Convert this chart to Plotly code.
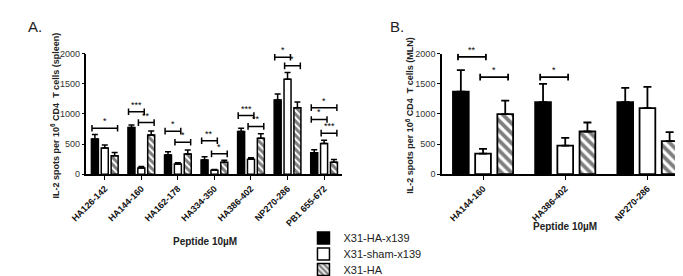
import plotly.graph_objects as go

# ---------------- data ----------------
peptides_A = ["HA126-142", "HA144-160", "HA162-178", "HA334-350",
              "HA386-402", "NP270-286", "PB1 655-672"]
peptides_B = ["HA144-160", "HA386-402", "NP270-286"]
groups = ["X31-HA-x139", "X31-sham-x139", "X31-HA"]

spleen_ha_x139 = [585, 775, 318, 238, 708, 1230, 356]
spleen_ha_x139_sem = [75, 40, 57, 53, 54, 103, 50]
spleen_sham_x139 = [435, 105, 170, 65, 250, 1575, 510]
spleen_sham_x139_sem = [51, 22, 20, 12, 25, 112, 55]
spleen_ha = [306, 652, 335, 197, 598, 1105, 200]
spleen_ha_sem = [53, 67, 67, 35, 73, 95, 43]

mln_ha_x139 = [1370, 1194, 1194]
mln_ha_x139_sem = [358, 304, 240]
mln_sham_x139 = [341, 474, 1098]
mln_sham_x139_sem = [80, 128, 352]
mln_ha = [997, 709, 549]
mln_ha_sem = [224, 149, 149]

# significance: (category index, from bar, to bar, bracket height, label)
sig_A = [(0, 0, 2, 762, "*"), (1, 0, 1, 1036, "***"), (1, 1, 2, 857, "**"),
         (2, 0, 1, 715, "*"), (2, 1, 2, 530, "*"), (3, 0, 1, 555, "**"),
         (3, 1, 2, 338, "*"), (4, 0, 1, 973, "***"), (4, 1, 2, 793, "**"),
         (5, 0, 1, 1941, "*"), (5, 1, 2, 1798, "*"), (6, 0, 2, 1105, "*"),
         (6, 0, 1, 909, "*"), (6, 1, 2, 682, "***")]
sig_B = [(0, 0, 1, 1946, "**"), (0, 1, 2, 1610, "*"), (1, 0, 1, 1610, "*")]

y_ticks = [0, 500, 1000, 1500, 2000]

# ---------------- style ----------------
BARGAP = 0.19
BARGROUPGAP = 0.29
FONT = "Liberation Sans, Arial, sans-serif"
styles = [
    dict(color="black", line=dict(color="black", width=1.5)),
    dict(color="white", line=dict(color="black", width=1.5)),
    dict(color="white", line=dict(color="black", width=1.5),
         pattern=dict(shape="\\", fgcolor="black", bgcolor="white",
                      size=5, solidity=0.6)),
]
legend_names = ["legend", "legend2", "legend3"]

fig = go.Figure()

panelA = [(spleen_ha_x139, spleen_ha_x139_sem),
          (spleen_sham_x139, spleen_sham_x139_sem),
          (spleen_ha, spleen_ha_sem)]
panelB = [(mln_ha_x139, mln_ha_x139_sem),
          (mln_sham_x139, mln_sham_x139_sem),
          (mln_ha, mln_ha_sem)]

for i, (vals, sem) in enumerate(panelA):
    fig.add_trace(go.Bar(
        x=peptides_A, y=vals, name=groups[i], marker=styles[i],
        legend=legend_names[i], offsetgroup=str(i),
        error_y=dict(type="data", array=sem, arrayminus=[0] * len(sem),
                     symmetric=False, color="black", thickness=1.5, width=3),
        xaxis="x", yaxis="y"))

for i, (vals, sem) in enumerate(panelB):
    st = dict(styles[i])
    st["line"] = dict(color="black", width=1.8)
    if "pattern" in st:
        st["pattern"] = dict(shape="\\", fgcolor="black", bgcolor="white",
                             size=7, solidity=0.55)
    fig.add_trace(go.Bar(
        x=peptides_B, y=vals, name=groups[i], marker=st, showlegend=False,
        offsetgroup=str(i),
        error_y=dict(type="data", array=sem, arrayminus=[0] * len(sem),
                     symmetric=False, color="black", thickness=1.8, width=4),
        xaxis="x2", yaxis="y2"))

slot = (1 - BARGAP) / 3


def add_brackets(sig, xref, yref, ext, lw):
    for cat, b0, b1, yv, lab in sig:
        x0 = cat + (b0 - 1) * slot - ext
        x1 = cat + (b1 - 1) * slot + ext
        ln = dict(color="black", width=lw)
        fig.add_shape(type="line", xref=xref, yref=yref, x0=x0, x1=x1,
                      y0=yv, y1=yv, line=ln)
        for xe in (x0, x1):
            fig.add_shape(type="line", xref=xref, yref=yref, x0=xe, x1=xe,
                          y0=yv - 55, y1=yv + 55, line=ln)
        fig.add_annotation(xref=xref, yref=yref, x=(x0 + x1) / 2, y=yv,
                           text=lab, showarrow=False, yanchor="middle",
                           yshift=7, font=dict(size=9, color="black",
                                               family=FONT))


add_brackets(sig_A, "x", "y", 0.08, 1.5)
add_brackets(sig_B, "x2", "y2", 0.035, 1.8)

axis_common = dict(showline=True, linecolor="black", linewidth=1.5,
                   ticks="outside", tickcolor="black", showgrid=False,
                   zeroline=False)
ydom = [0.3938, 0.8471]

fig.update_layout(
    width=683, height=276,
    margin=dict(l=0, r=0, t=0, b=0),
    paper_bgcolor="white", plot_bgcolor="white",
    barmode="group", bargap=BARGAP, bargroupgap=BARGROUPGAP,
    font=dict(family=FONT, color="#222"),
    xaxis=dict(domain=[0.0937, 0.4773], type="category",
               range=[-0.5, len(peptides_A) - 0.5], ticklen=4,
               tickangle=-45, tickfont=dict(size=9, color="#111",
                                            weight="bold"),
               anchor="y", **axis_common),
    yaxis=dict(domain=ydom, range=[0, 2000], tickvals=y_ticks, ticklen=3,
               tickfont=dict(size=9, color="#333"), anchor="x",
               **axis_common),
    xaxis2=dict(domain=[0.6266, 0.9963], type="category",
                range=[-0.5, len(peptides_B) - 0.5], ticklen=4,
                tickangle=-45, tickfont=dict(size=9, color="#111",
                                             weight="bold"),
                anchor="y2", **axis_common),
    yaxis2=dict(domain=ydom, range=[0, 2000], tickvals=y_ticks, ticklen=3,
                tickfont=dict(size=9, color="#333"), anchor="x2",
                **axis_common),
)

leg_y = [0.1540, 0.0940, 0.0340]
for name, yy in zip(legend_names, leg_y):
    fig.update_layout({name: dict(x=0.419, y=yy, xanchor="left",
                                  yanchor="middle", bgcolor="rgba(0,0,0,0)",
                                  font=dict(size=11, color="#222",
                                            family=FONT),
                                  itemwidth=30)})

texts = [
    dict(x=0.0469, y=0.6160, text="<b>IL-2 spots per 10<sup>6</sup> CD4  T cells (spleen)</b>",
         textangle=-90, size=9),
    dict(x=0.5783, y=0.6160, text="<b>IL-2 spots per 10<sup>6</sup> CD4  T cells (MLN)</b>",
         textangle=-90, size=9),
    dict(x=0.2709, y=0.1413, text="<b>Peptide 10µM</b>", textangle=0, size=10),
    dict(x=0.8111, y=0.1957, text="<b>Peptide 10µM</b>", textangle=0, size=10),
]
for t in texts:
    fig.add_annotation(xref="paper", yref="paper", x=t["x"], y=t["y"],
                       text=t["text"], textangle=t["textangle"],
                       showarrow=False, xanchor="center", yanchor="middle",
                       font=dict(size=t["size"], color="#222", family=FONT))

fig.add_annotation(xref="paper", yref="paper", x=0.003, y=0.99, text="A.",
                   showarrow=False, xanchor="left", yanchor="top",
                   font=dict(size=15, color="#222", family=FONT))
fig.add_annotation(xref="paper", yref="paper", x=0.545, y=0.99, text="B.",
                   showarrow=False, xanchor="left", yanchor="top",
                   font=dict(size=15, color="#222", family=FONT))

fig.write_html("out.html")
